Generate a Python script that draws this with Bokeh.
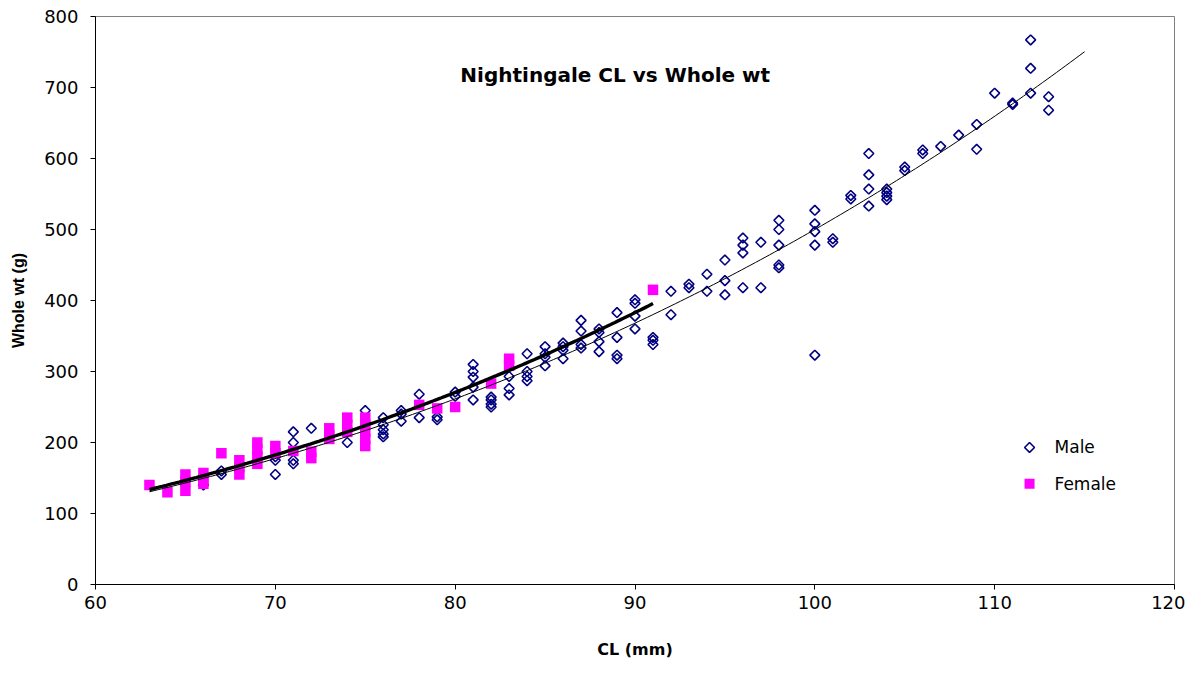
import numpy as np
from bokeh.plotting import figure
from bokeh.models import Range1d, Label, SingleIntervalTicker
from bokeh.embed import file_html
from bokeh.resources import INLINE

# ---- data ----
male_cl = [66, 67, 67, 70, 70, 70, 71, 71, 71, 71, 72, 74, 75,
           76, 76, 76, 76, 76, 77, 77, 77, 78, 78, 79, 79, 80, 80,
           81, 81, 81, 81, 81, 82, 82, 82, 82, 83, 83, 83,
           84, 84, 84, 84, 85, 85, 85, 85, 86, 86, 86, 86,
           87, 87, 87, 87, 88, 88, 88, 88, 89, 89, 89, 89,
           90, 90, 90, 90, 91, 91, 91, 92, 92, 93, 93, 94, 94,
           95, 95, 95, 96, 96, 96, 96, 97, 97, 98, 98, 98, 98, 98,
           100, 100, 100, 100, 100, 101, 101, 102, 102,
           103, 103, 103, 103, 104, 104, 104, 104, 105, 105, 106, 106,
           107, 108, 109, 109, 110, 111, 111, 112, 112, 112, 113, 113]
male_wt = [140, 160, 155, 180, 175, 155, 215, 200, 175, 170, 220, 200, 245,
           235, 225, 218, 212, 208, 245, 240, 230, 268, 235, 236, 232, 271, 265,
           310, 300, 292, 278, 260, 264, 260, 254, 250, 293, 276, 267,
           325, 300, 293, 287, 335, 325, 320, 308, 340, 335, 330, 318,
           372, 357, 338, 333, 360, 355, 342, 328, 383, 348, 323, 318,
           401, 396, 378, 360, 348, 344, 338, 413, 380, 423, 418, 437, 413,
           457, 428, 408, 488, 478, 467, 418, 482, 418, 513, 500, 478, 450, 446,
           527, 508, 497, 478, 323, 487, 482, 548, 543,
           607, 577, 557, 533, 557, 552, 547, 542, 588, 583, 612, 607,
           617, 633, 648, 613, 692, 678, 676, 767, 727, 692, 687, 668]

female_cl = [63, 64, 65, 65, 65, 66, 66, 66, 67, 68, 68, 68,
             69, 69, 69, 69, 70, 70, 71, 72, 72, 73, 73, 73,
             74, 74, 74, 75, 75, 75, 75, 75, 78, 79, 80, 82, 83, 83, 91]
female_wt = [140, 130, 155, 145, 132, 157, 148, 142, 185, 175, 165, 155,
             200, 190, 180, 170, 195, 185, 188, 187, 178, 220, 210, 205,
             235, 225, 215, 235, 225, 215, 205, 195, 253, 248, 250, 283, 318, 308, 415]

series_names = ["Male", "Female"]
x_ticks_interval = 10
y_ticks_interval = 100

# trendline extents (as drawn in the reference)
trend_start = 63
male_trend_end = 115
female_trend_end = 91

# ---- power-law trendlines fitted to the data (Excel-style) ----
bm, am = np.polyfit(np.log(male_cl), np.log(male_wt), 1)
bf, af = np.polyfit(np.log(female_cl), np.log(female_wt), 1)
xm = np.linspace(trend_start, male_trend_end, 200)
xf = np.linspace(trend_start, female_trend_end, 120)
ym = np.exp(am) * xm ** bm
yf = np.exp(af) * xf ** bf

p = figure(width=1185, height=662, output_backend="svg", toolbar_location=None,
           x_range=Range1d(60, 120), y_range=Range1d(0, 800),
           min_border_left=95, min_border_right=11, min_border_top=16, min_border_bottom=78,
           background_fill_color="white", border_fill_color="white")

p.xgrid.visible = False
p.ygrid.visible = False
p.outline_line_color = "#808080"
p.outline_line_width = 1

for ax in (p.xaxis[0], p.yaxis[0]):
    ax.axis_line_color = "black"
    ax.major_tick_line_color = "black"
    ax.major_tick_in = 0
    ax.major_tick_out = 5
    ax.minor_tick_in = 0
    ax.minor_tick_out = 0
    ax.major_label_text_font = "DejaVu Sans"
    ax.major_label_text_font_size = "18px"
    ax.major_label_text_color = "black"
    ax.axis_label_text_color = "black"
    ax.axis_label_text_font_style = "bold"

p.xaxis.ticker = SingleIntervalTicker(interval=x_ticks_interval)
p.yaxis.ticker = SingleIntervalTicker(interval=y_ticks_interval)
p.xaxis.major_label_standoff = 6
p.yaxis.major_label_standoff = 12

p.xaxis.axis_label = "CL (mm)"
p.xaxis.axis_label_text_font = "DejaVu Sans"
p.xaxis.axis_label_text_font_size = "16px"
p.xaxis.axis_label_standoff = 28

p.yaxis.axis_label = "Whole wt (g)"
p.yaxis.axis_label_text_font = "Liberation Sans"
p.yaxis.axis_label_text_font_size = "16px"
p.yaxis.axis_label_standoff = 14

male_style = dict(marker="square", size=7, angle=np.pi / 4,
                  fill_color=None, line_color="#000080", line_width=1.6)
female_style = dict(marker="square", size=10.5,
                    fill_color="#FF00FF", line_color="#FF00FF", line_width=0)

p.scatter(male_cl, male_wt, **male_style)
p.scatter(female_cl, female_wt, **female_style)

p.line(xf, yf, line_color="black", line_width=3.4)
p.line(xm, ym, line_color="black", line_width=1)

title = Label(x=88.9, y=717, text="Nightingale CL vs Whole wt",
              text_align="center", text_baseline="middle",
              text_font="DejaVu Sans", text_font_style="bold",
              text_font_size="20px", text_color="black")
p.add_layout(title)

# legend (drawn by hand so the Male key keeps its diamond shape)
leg_key_x = 111.94
leg_text_x = 113.33
leg_ys = [193, 142]
p.scatter([leg_key_x], [leg_ys[0]], **male_style)
p.scatter([leg_key_x], [leg_ys[1]], **dict(female_style, size=10))
for name, ly in zip(series_names, leg_ys):
    p.add_layout(Label(x=leg_text_x, y=ly, text=name, text_align="left",
                       text_baseline="middle", text_font="DejaVu Sans",
                       text_font_size="17px", text_color="black"))

open("out.html", "w").write(file_html(p, INLINE))
